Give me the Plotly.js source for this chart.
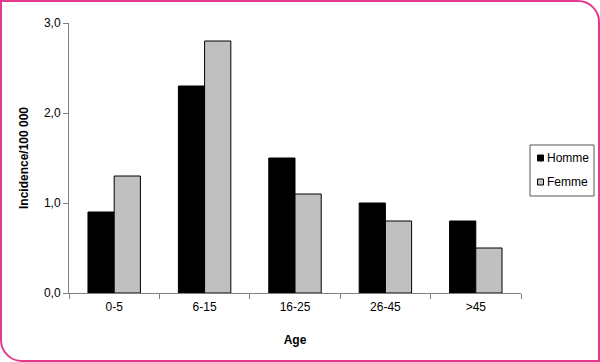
<!DOCTYPE html>
<html><head><meta charset="utf-8">
<script src="https://cdn.plot.ly/plotly-3.0.1.min.js"></script>
<style>
html,body{margin:0;padding:0;background:#fff;}
#wrap{position:relative;width:600px;height:362px;}
#chart{width:600px;height:362px;}
#frame{position:absolute;left:0;top:0;width:596px;height:358px;border:2px solid #e5398b;border-radius:0 22px 0 22px;pointer-events:none;}
</style></head>
<body><div id="wrap"><div id="chart"></div><div id="frame"></div></div>
<script>
const categories = ["0-5","6-15","16-25","26-45",">45"];
const homme = [0.9, 2.3, 1.5, 1.0, 0.8];
const femme = [1.3, 2.8, 1.1, 0.8, 0.5];
const yTicks = [0, 1, 2, 3];
const seriesNames = ["Homme", "Femme"];
const seriesColors = ["#000000", "#c0c0c0"];

// plot area in pixels
const L = 69, T = 23, W = 452, H = 270;
const px = x => (x - L) / W;
const py = y => (T + H - y) / H;

const data = [
  {type:"bar", name:seriesNames[0], x:categories, y:homme, marker:{color:seriesColors[0], line:{color:"#000", width:1}}, showlegend:false},
  {type:"bar", name:seriesNames[1], x:categories, y:femme, marker:{color:seriesColors[1], line:{color:"#000", width:1}}, showlegend:false}
];

// custom compact legend (matches reference style)
const shapes = [
  {type:"rect", xref:"paper", yref:"paper", x0:px(530), x1:px(594), y0:py(196), y1:py(145), line:{color:"#555", width:1}, fillcolor:"#fff"}
];
const annotations = [];
const rowY = [158, 182];
seriesNames.forEach((n, i) => {
  shapes.push({type:"rect", xref:"paper", yref:"paper", x0:px(537.5), x1:px(543.5), y0:py(rowY[i]+3), y1:py(rowY[i]-3),
    line:{color:"#000", width:1}, fillcolor:seriesColors[i]});
  annotations.push({xref:"paper", yref:"paper", x:px(544.5), y:py(rowY[i]), xanchor:"left", yanchor:"middle",
    text:n, showarrow:false, font:{size:12, color:"#000"}});
});

const layout = {
  width:600, height:362,
  margin:{l:L, r:600-L-W, t:T, b:362-T-H, autoexpand:false},
  paper_bgcolor:"rgba(0,0,0,0)", plot_bgcolor:"#fff",
  separators:", ",
  barmode:"group", bargap:0.42, bargroupgap:0,
  showlegend:false,
  font:{family:"Liberation Sans, Arial, sans-serif", size:12, color:"#000"},
  xaxis:{type:"category", showline:true, linecolor:"#808080", linewidth:1, ticks:"outside", tickson:"boundaries", ticklen:5, tickcolor:"#808080",
    ticklabelstandoff:3,
    title:{text:"<b>Age</b>", font:{size:12}, standoff:22}, showgrid:false, zeroline:false},
  yaxis:{range:[0,3], tickvals:yTicks, tickformat:".1f", showline:true, linecolor:"#808080", linewidth:1, ticks:"outside", ticklen:5, tickcolor:"#808080",
    showgrid:false, zeroline:false, title:{text:"<b>Incidence/100 000</b>", font:{size:12}, standoff:12}},
  shapes: shapes,
  annotations: annotations
};
Plotly.newPlot("chart", data, layout, {displayModeBar:false, staticPlot:true});
</script></body></html>
